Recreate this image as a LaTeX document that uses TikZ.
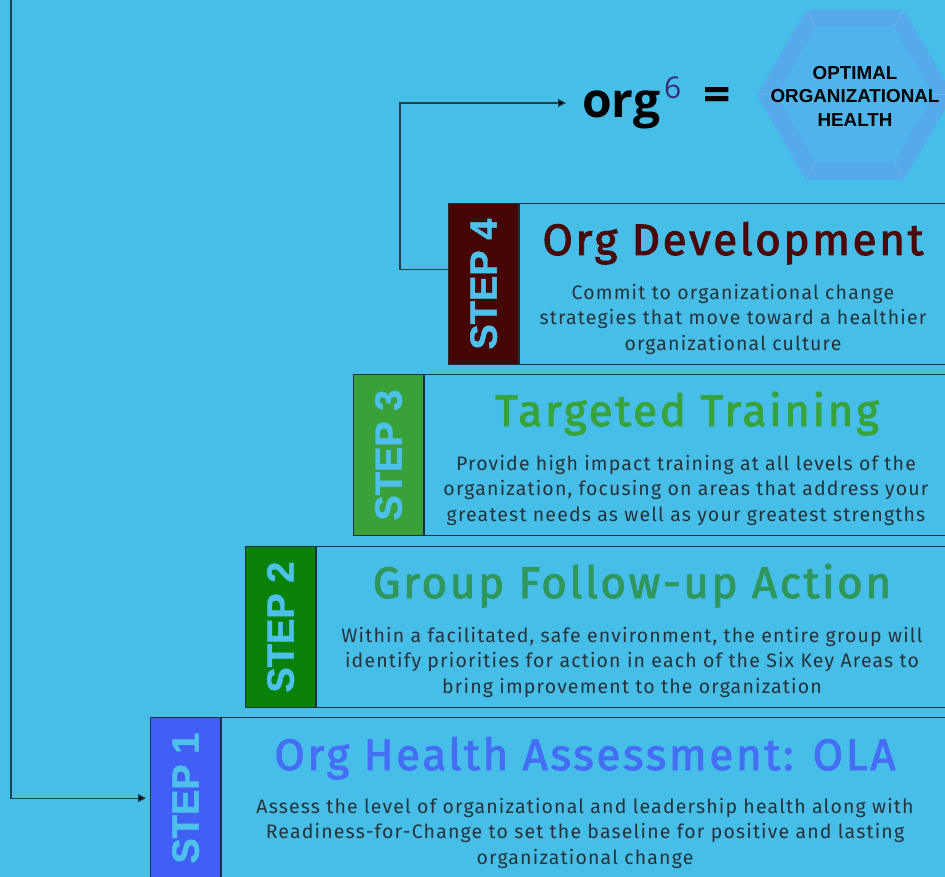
\documentclass[tikz,border=0pt]{standalone}
\usepackage{fontspec}
\setmainfont{Fira Sans}
\newfontfamily\titlefont[LetterSpace=6,FakeBold=2.2]{Fira Sans}
\newfontfamily\bodyfont[LetterSpace=6]{Fira Sans}
\newfontfamily\stepfont[BoldFeatures={FakeBold=1.2}]{Liberation Sans}
\newfontfamily\hexfont{Liberation Sans}
\newfontfamily\orgfont{Open Sans}
\usetikzlibrary{arrows.meta,shapes.geometric}
\definecolor{bg}{RGB}{71,190,232}
\definecolor{edge}{RGB}{30,48,58}
\definecolor{conncol}{RGB}{40,62,70}
\definecolor{tabfour}{RGB}{69,5,5}
\definecolor{tabthree}{RGB}{58,160,58}
\definecolor{tabtwo}{RGB}{10,130,10}
\definecolor{tabone}{RGB}{65,95,245}
\definecolor{ttlfour}{RGB}{75,8,8}
\definecolor{ttlthree}{RGB}{58,162,58}
\definecolor{ttltwo}{RGB}{48,150,92}
\definecolor{ttlone}{RGB}{70,110,245}
\definecolor{desccol}{RGB}{40,50,56}
\definecolor{steptxt}{RGB}{78,192,236}
\definecolor{hexout}{RGB}{86,170,236}
\definecolor{hexin}{RGB}{80,180,236}
\definecolor{hexline}{RGB}{100,178,240}
\definecolor{sixcol}{RGB}{60,45,120}
\begin{document}
\begin{tikzpicture}[x=1pt,y=-1pt,
  tabbox/.style={draw=edge,line width=1.2pt,anchor=north west,inner sep=0pt,minimum width=70pt,minimum height=161pt},
  bodybox/.style={draw=edge,line width=1.2pt,anchor=north west,inner sep=0pt,minimum height=161pt},
  steplabel/.style={rotate=90,text=steptxt,inner sep=0pt,font=\stepfont\bfseries\fontsize{38}{38}\selectfont},
  ttl/.style={anchor=base,inner sep=0pt,font=\titlefont\fontsize{44}{46}\selectfont},
  desc/.style={anchor=north,inner sep=0pt,align=center,text=desccol,font=\bodyfont\fontsize{19.5}{25.3}\selectfont},
  conn/.style={draw=conncol,line width=1.1pt,-{Triangle[length=8pt,width=8pt,fill=black]}},
  hexa/.style={regular polygon,regular polygon sides=6,inner sep=0pt}
]
\fill[bg] (0,0) rectangle (945,877);
\useasboundingbox (0,0) rectangle (945,877);

% hexagon
\node[hexa,fill=hexout,minimum size=196pt] (hexo) at (855,95) {};
\node[hexa,fill=hexin,minimum size=156pt] (hexi) at (855,95) {};
\foreach \k in {1,...,6}{\draw[hexline,line width=1pt] (hexo.corner \k) -- (hexi.corner \k);}
\node[align=center,inner sep=0pt,font=\hexfont\bfseries\fontsize{18.8}{23.5}\selectfont] (hext) at (855,96) {OPTIMAL\\ORGANIZATIONAL\\HEALTH};

% org^6 =
\node[anchor=base west,inner sep=0pt,font=\orgfont\bfseries\fontsize{48}{50}\selectfont] (org) at (582,118) {org};
\node[anchor=base west,inner sep=0pt,text=sixcol,font=\orgfont\fontsize{30}{30}\selectfont] (six) at (664,99) {6};
\node[inner sep=0pt,font=\orgfont\bfseries\fontsize{48}{50}\selectfont] (eq) at (717,100) {=};

% step 4
\node[tabbox,fill=tabfour] (t4) at (448,203) {};
\node[bodybox,minimum width=440pt] (b4) at (t4.north east) {};
\node[steplabel] (l4) at (t4.center) {STEP 4};
\node[ttl,text=ttlfour] (h4) at (733,255) {Org Development};
\node[desc] (d4) at (733,284) {Commit to organizational change\\strategies that move toward a healthier\\organizational culture};

% step 3
\node[tabbox,fill=tabthree] (t3) at (353,374) {};
\node[bodybox,minimum width=530pt] (b3) at (t3.north east) {};
\node[steplabel] (l3) at (t3.center) {STEP 3};
\node[ttl,text=ttlthree] (h3) at (687,426) {Targeted Training};
\node[desc] (d3) at (686,455) {Provide high impact training at all levels of the\\organization, focusing on areas that address your\\greatest needs as well as your greatest strengths};

% step 2
\node[tabbox,fill=tabtwo] (t2) at (245,546) {};
\node[bodybox,minimum width=640pt] (b2) at (t2.north east) {};
\node[steplabel] (l2) at (t2.center) {STEP 2};
\node[ttl,text=ttltwo] (h2) at (632,598) {Group Follow-up Action};
\node[desc] (d2) at (632,627) {Within a facilitated, safe environment, the entire group will\\identify priorities for action in each of the Six Key Areas to\\bring improvement to the organization};

% step 1
\node[tabbox,fill=tabone] (t1) at (150,717) {};
\node[bodybox,minimum width=735pt] (b1) at (t1.north east) {};
\node[steplabel] (l1) at (t1.center) {STEP 1};
\node[ttl,text=ttlone] (h1) at (585,770) {Org Health Assessment: OLA};
\node[desc] (d1) at (585,798) {Assess the level of organizational and leadership health along with\\Readiness-for-Change to set the baseline for positive and lasting\\organizational change};

% connectors
\coordinate (k1) at (400,103);
\draw[conn] ([yshift=15pt]t4.west) -| (k1) -- ([xshift=-16pt]k1 -| org.west);
\coordinate (k0) at (11,0);
\draw[conn,shorten >=4pt] (k0) |- (t1.west);
\end{tikzpicture}
\end{document}
